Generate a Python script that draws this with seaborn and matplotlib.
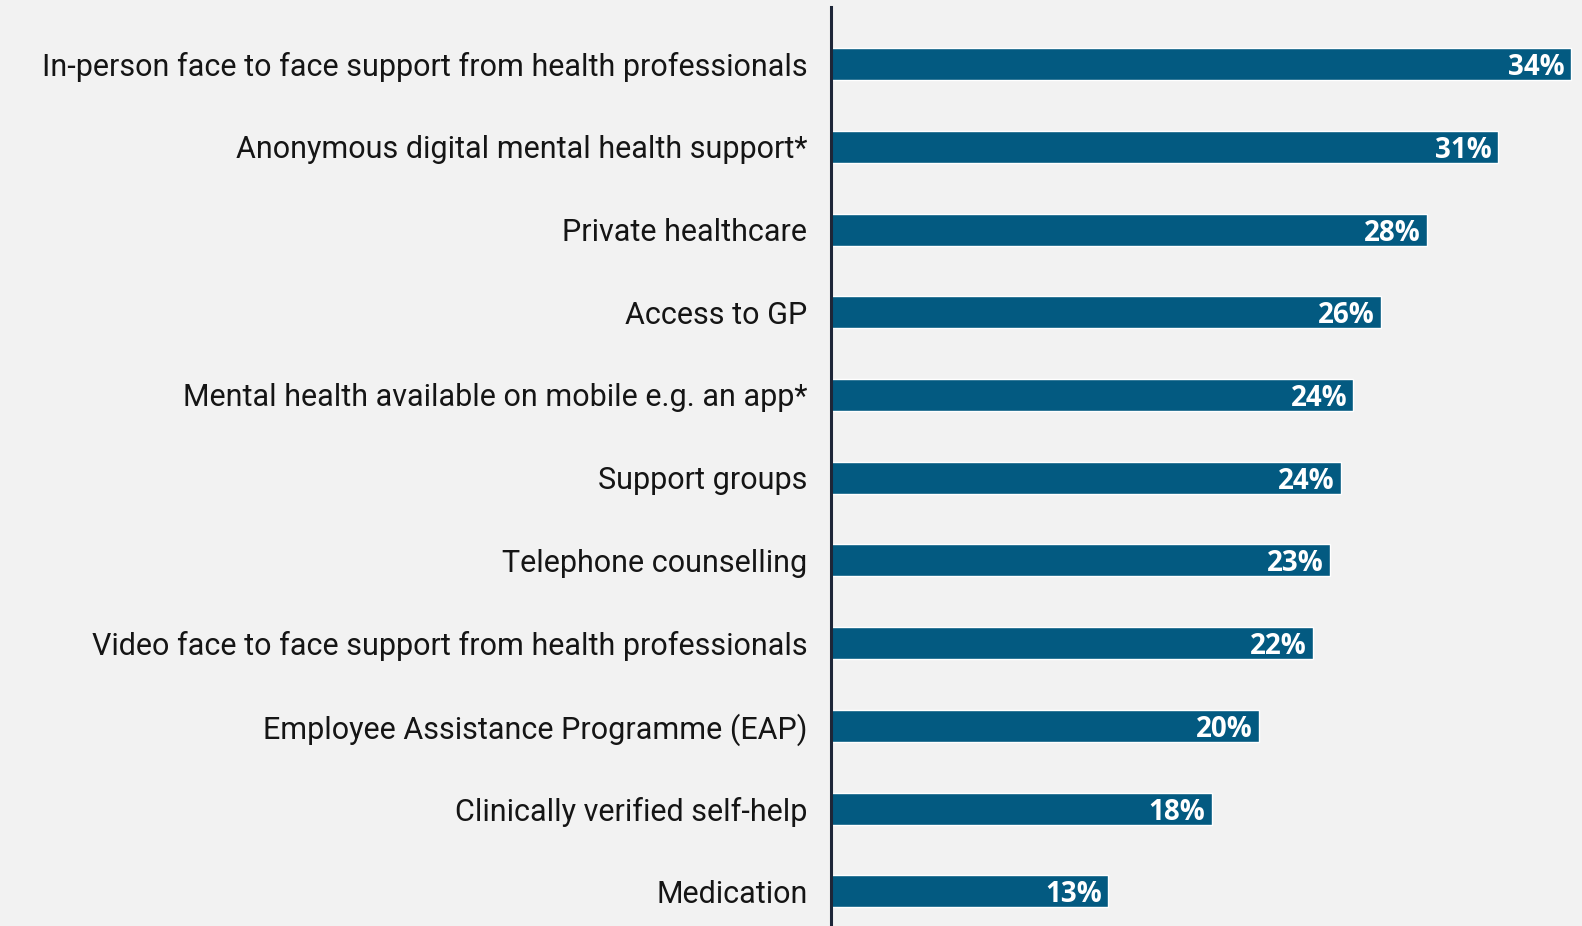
import matplotlib
matplotlib.use("Agg")
import matplotlib.pyplot as plt
import seaborn as sns
import pandas as pd

categories = [
    "In-person face to face support from health professionals",
    "Anonymous digital mental health support*",
    "Private healthcare",
    "Access to GP",
    "Mental health available on mobile e.g. an app*",
    "Support groups",
    "Telephone counselling",
    "Video face to face support from health professionals",
    "Employee Assistance Programme (EAP)",
    "Clinically verified self-help",
    "Medication",
]
shares = [34.4, 31.0, 27.7, 25.6, 24.3, 23.7, 23.2, 22.4, 19.9, 17.7, 12.9]

BG = "#f2f2f2"
BAR = "#035a81"
AXIS = "#1e2638"

sns.set_theme(style="white")
plt.rcParams["font.family"] = ["Roboto", "DejaVu Sans"]

df = pd.DataFrame({"option": categories, "share": shares})

W, H = 1582, 926
fig = plt.figure(figsize=(W / 100, H / 100), dpi=100, facecolor=BG)
ax = fig.add_axes([831 / W, 0, 1 - 831 / W, 1 - 7 / H], facecolor=BG)

sns.barplot(data=df, x="share", y="option", orient="h", color=BAR,
            saturation=1, width=0.387, ax=ax)

ax.set_xlim(0, 751 / 21.5)
ax.set_ylim(10.42, -0.69)
ax.set_xlabel("")
ax.set_ylabel("")
ax.set_xticks([])
for side in ("top", "right", "bottom"):
    ax.spines[side].set_visible(False)
ax.spines["left"].set_color(AXIS)
ax.spines["left"].set_linewidth(2.2)
ax.tick_params(axis="y", length=0, pad=17, labelsize=22, labelcolor="#151515")
for lbl in ax.get_yticklabels():
    lbl.set_verticalalignment("center_baseline")

for patch, v in zip(ax.patches, shares):
    y = patch.get_y() + patch.get_height() / 2
    ax.annotate(f"{v:.0f}%", xy=(v, y), xytext=(-4.5, 0), textcoords="offset points",
                ha="right", va="center_baseline", color="white", fontsize=20,
                fontweight="bold", family=["Open Sans", "DejaVu Sans"])

fig.savefig("out.png", dpi=100, facecolor=BG)
